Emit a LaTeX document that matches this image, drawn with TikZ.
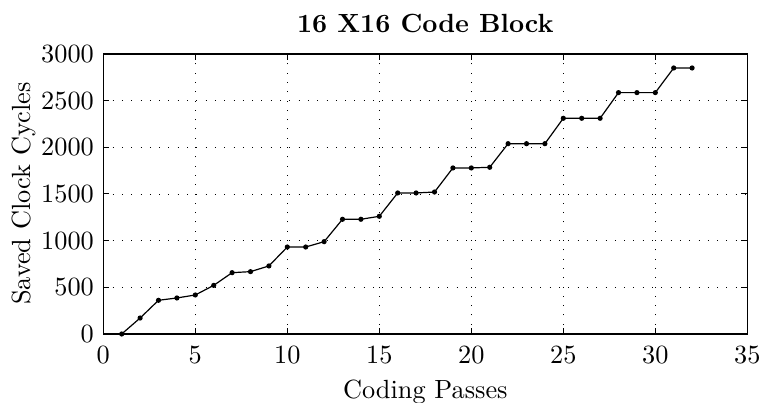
\documentclass[tikz,border=0pt]{standalone}
\usepackage{fontspec}
% design-size 10 cuts, scaled up, for the heavier strokes
\setmainfont{lmroman10-regular.otf}[BoldFont=lmroman10-bold.otf]
\begin{document}
\begin{tikzpicture}[x=1pt,y=1pt,
  lbl/.style={inner sep=0pt,font=\fontsize{26.3}{30}\selectfont},
  gridline/.style={line width=0.9pt,dash pattern=on 0.9pt off 8.4pt},
  axisline/.style={line width=1.5pt},
  tickmark/.style={line width=1pt},
  dataline/.style={line width=1.2pt},
  marker/.style={circle,fill=black,inner sep=0pt,minimum size=5.2pt}]
\useasboundingbox (0,0) rectangle (759,403);
\begin{scope}
\clip (0,0) rectangle (759,403);
% axis box corners
\coordinate (ll) at (103.3,69);
\coordinate (ur) at (747.3,349);
% data frame: x in passes, y in clock cycles
\begin{scope}[shift={(103.3,69)},x=18.4pt,y=0.0933333pt]
  % grid
  \foreach \v in {5,10,...,30} \draw[gridline] (\v,0) -- (\v,3000);
  \foreach \v in {500,1000,...,2500} \draw[gridline] (0,\v) -- (35,\v);
  % ticks on all sides
  \foreach \v in {5,10,...,30} {
    \draw[tickmark] (\v,0) -- ++(0,6pt);
    \draw[tickmark] (\v,3000) -- ++(0,-6pt);
  }
  \foreach \v in {500,1000,...,2500} {
    \draw[tickmark] (0,\v) -- ++(6pt,0);
    \draw[tickmark] (35,\v) -- ++(-6pt,0);
  }
  % tick labels
  \foreach \v in {0,5,...,35}
    \node[lbl,anchor=base] (xl\v) at ([yshift=-30pt]\v,0) {\v};
  \foreach \v in {0,500,...,3000}
    \node[lbl,anchor=east] (yl\v) at ([xshift=-9.3pt]0,\v) {\v};
  % data points
  \foreach \i/\v in {1/0,2/171,3/361,4/386,5/418,6/521,7/657,8/668,9/729,
      10/932,11/932,12/989,13/1229,14/1229,15/1261,16/1511,17/1511,18/1521,
      19/1779,20/1779,21/1786,22/2039,23/2039,24/2039,25/2311,26/2311,
      27/2311,28/2586,29/2586,30/2586,31/2850,32/2850}
    \node[marker] (p\i) at (\i,\v) {};
  \draw[dataline] (p1.center)
    \foreach \i in {2,...,32} { -- (p\i.center) };
\end{scope}
% frame
\draw[axisline] (ll) rectangle (ur);
% title and axis labels
\node[lbl,anchor=base,font=\fontsize{26.3}{30}\selectfont\bfseries] (title) at (425.3,370) {16 X16 Code Block};
\node[lbl,anchor=base,rotate=90] (ylab) at (31,209.5) {Saved Clock Cycles};
\node[lbl,anchor=base] (xlab) at (425.3,4) {Coding Passes};
\end{scope}
\end{tikzpicture}
\end{document}
